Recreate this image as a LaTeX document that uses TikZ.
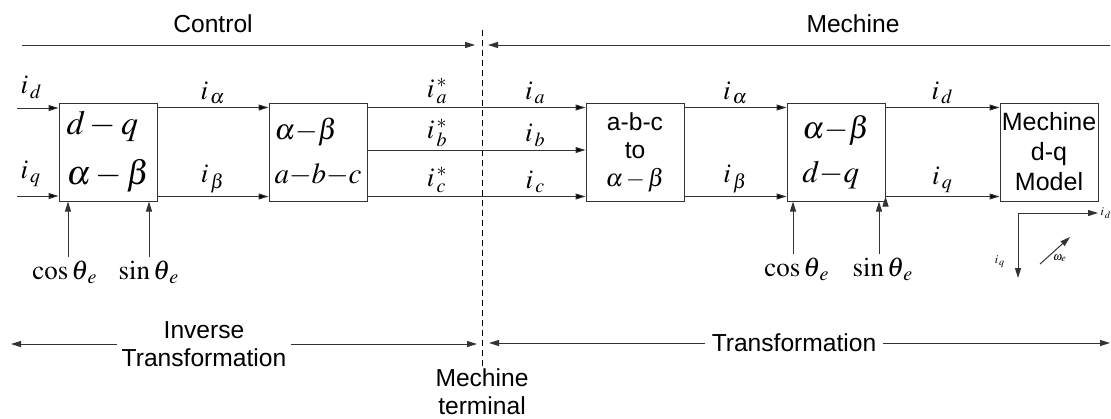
\documentclass[tikz,border=0pt]{standalone}
\usepackage{mathptmx}
\usepackage[no-math]{fontspec}
\setmainfont{Liberation Sans}
\usetikzlibrary{arrows.meta}

\tikzset{
  blk/.style={draw=black!80, minimum width=49pt, minimum height=49pt, inner sep=0pt, align=left},
  sig/.style={draw=black!80, -{Triangle[length=5pt,width=3pt]}},
  lbl/.style={above, inner sep=1.5pt, font=\fontsize{13.5}{15}\selectfont},
  tiny lbl/.style={inner sep=1pt, font=\fontsize{6}{7}\selectfont}
}

\begin{document}
\begin{tikzpicture}[x=0.5pt, y=-0.5pt, line width=0.5pt, font=\fontsize{12.3}{14}\selectfont]
  \useasboundingbox (0,0) rectangle (1111,418);

  % transformation blocks
  \node[blk, font=\fontsize{17}{25}\selectfont] (dqab) at (108,152) {$d-q$\\$\alpha-\beta$};
  \node[blk, font=\fontsize{14.5}{22}\selectfont] (ababc) at (318,152) {$\alpha{-}\beta$\\$a{-}b{-}c$};
  \node[blk, align=center, font=\fontsize{12.3}{14}\selectfont] (abcab) at (635,152) {a-b-c\\to\\$\alpha\,{-}\,\beta$};
  \node[blk, font=\fontsize{15.5}{22}\selectfont] (abdq) at (836,152) {$\alpha{-}\beta$\\$d{-}q$};
  \node[blk, align=center, font=\fontsize{12.5}{15}\selectfont] (model) at (1049,152) {Mechine\\d-q\\Model};

  % current signals between the blocks
  \coordinate (idin) at (17,108);
  \coordinate (iqin) at (17,196);
  \path[sig]
    (idin) edge node[lbl, pos=0, above right, yshift=3pt] {$i_{\,d}$} (idin -| dqab.west)
    (iqin) edge node[lbl, pos=0, above right, yshift=3pt] {$i_{\,q}$} (iqin -| dqab.west)
    ([yshift=-2.5pt]dqab.north east) edge node[lbl] {$i_{\,\alpha}$} ([yshift=-2.5pt]ababc.north west)
    ([yshift=2.5pt]dqab.south east) edge node[lbl] {$i_{\,\beta}$} ([yshift=2.5pt]ababc.south west)
    ([yshift=-2.5pt]ababc.north east) edge node[lbl, pos=0.32] {$i_{\,a}^{\,*}$}
      node[lbl, pos=0.77] {$i_{\,a}$} ([yshift=-2.5pt]abcab.north west)
    ([yshift=1pt]ababc.east) edge node[lbl, pos=0.32] {$i_{\,b}^{\,*}$}
      node[lbl, pos=0.77] {$i_{\,b}$} ([yshift=1pt]abcab.west)
    ([yshift=2.5pt]ababc.south east) edge node[lbl, pos=0.32] {$i_{\,c}^{\,*}$}
      node[lbl, pos=0.77] {$i_{\,c}$} ([yshift=2.5pt]abcab.south west)
    ([yshift=-2.5pt]abcab.north east) edge node[lbl] {$i_{\,\alpha}$} ([yshift=-2.5pt]abdq.north west)
    ([yshift=2.5pt]abcab.south east) edge node[lbl] {$i_{\,\beta}$} ([yshift=2.5pt]abdq.south west)
    ([yshift=-2.5pt]abdq.north east) edge node[lbl] {$i_{\,d}$} ([yshift=-2.5pt]model.north west)
    ([yshift=2.5pt]abdq.south east) edge node[lbl] {$i_{\,q}$} ([yshift=2.5pt]model.south west);

  % angle inputs
  \coordinate (ca) at (68,257);
  \coordinate (sa) at (149,257);
  \coordinate (cb) at (793,254);
  \coordinate (sb) at (879,254);
  \node[lbl, below, xshift=-1.5pt] (cosa) at (ca) {$\cos\theta_{\,e}$};
  \node[lbl, below] (sina) at (sa) {$\sin\theta_{\,e}$};
  \node[lbl, below, xshift=2pt] (cosb) at (cb) {$\cos\theta_{\,e}$};
  \node[lbl, below, xshift=2pt] (sinb) at (sb) {$\sin\theta_{\,e}$};
  \draw[sig] (ca) -- (ca |- dqab.south);
  \draw[sig] (sa) -- (sa |- dqab.south);
  \draw[sig] (cb) -- (cb |- abdq.south);
  \draw[sig] (sb) -- (sb |- abdq.south);

  % d-q frame of the machine
  \coordinate (org) at (1018,213);
  \coordinate (dax) at (1098,213);
  \coordinate (qax) at (1018,278);
  \coordinate (wa) at (1040,264);
  \coordinate (wb) at (1070,237);
  \draw[sig] (org) -- (dax) node[tiny lbl, right] {$i_{\,d}$};
  \draw[sig] (org) -- (qax);
  \node[tiny lbl] (iqlbl) at (1000,262) {$i_{\,q}$};
  \draw[sig] (wa) -- (wb);
  \node[tiny lbl] (wlbl) at (1060,258) {$\omega_e$};

  % control / machine split
  \node (ctl) at (213,24) {Control};
  \node (mch) at (853,24) {Mechine};
  \coordinate (ctlL) at (22,45);
  \coordinate (ctlR) at (475,45);
  \coordinate (mchL) at (488,45);
  \coordinate (mchR) at (1110,45);
  \draw[sig] (ctlL) -- (ctlR);
  \draw[sig] (mchR) -- (mchL);
  \coordinate (tmtop) at (482,30);
  \node[align=center, inner sep=1pt] (term) at (482,392) {Mechine\\terminal};
  \draw[densely dashed, line width=0.4pt] (tmtop) -- (term.north);

  % transformation spans
  \node[align=center, inner sep=2pt] (inv) at (204,344) {Inverse\\Transformation};
  \node[inner sep=3pt] (fwd) at (794,343) {Transformation};
  \coordinate (invL) at (11,344);
  \coordinate (invR) at (477,344);
  \coordinate (fwdL) at (489,343);
  \coordinate (fwdR) at (1110,343);
  \draw[sig] (inv.west) -- (invL);
  \draw[sig] (inv.east) -- (invR);
  \draw[sig] (fwd.west) -- (fwdL);
  \draw[sig] (fwd.east) -- (fwdR);
\end{tikzpicture}
\end{document}
